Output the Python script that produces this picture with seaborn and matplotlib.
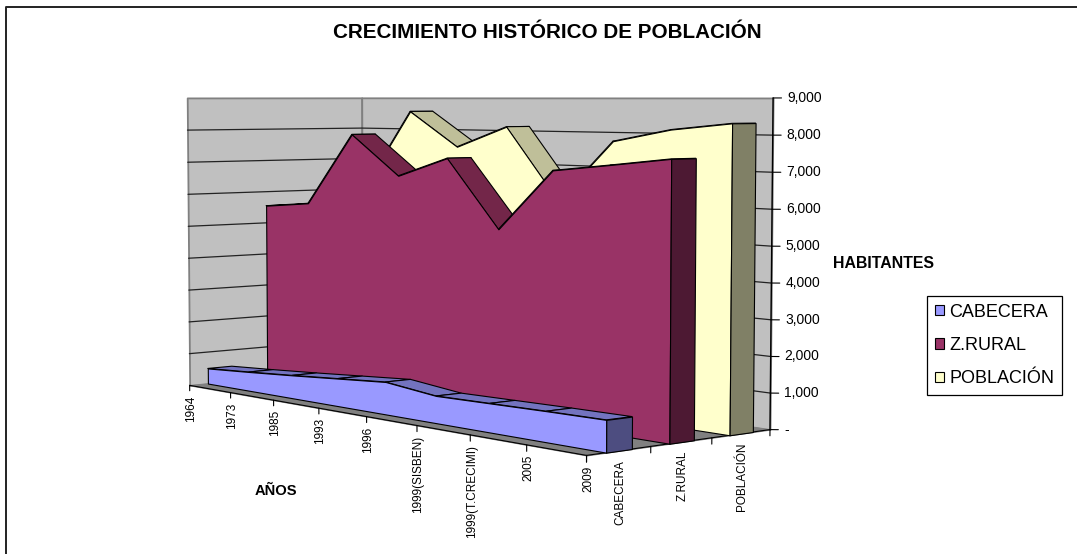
#!/usr/bin/env python
"""Crecimiento historico de poblacion, 3D area chart."""
import matplotlib
matplotlib.use('Agg')
import matplotlib.pyplot as plt
import numpy as np
from matplotlib.lines import Line2D
from matplotlib.patches import Patch
from mpl_toolkits.mplot3d import proj3d
from mpl_toolkits.mplot3d.art3d import Poly3DCollection
import seaborn as sns

YEARS = ['1964', '1973', '1985', '1993', '1996', '1999(SISBEN)', '1999(T.CRECIMI)', '2005', '2009']
SERIES = ['CABECERA', 'Z.RURAL', 'POBLACIÓN']
CABECERA = [480, 580, 690, 810, 930, 760, 790, 820, 840]
RURAL = [5550, 5710, 7890, 6690, 7260, 5300, 7020, 7220, 7430]
POBLACION = [5940, 6200, 8580, 7520, 8150, 6040, 7790, 8140, 8330]
Z_TICKS = [0, 1000, 2000, 3000, 4000, 5000, 6000, 7000, 8000, 9000]
Z_LABELS = ['-', '1,000', '2,000', '3,000', '4,000', '5,000', '6,000', '7,000', '8,000', '9,000']

W, H = 1077, 554
sns.set_theme(style='white')
plt.rcParams['font.family'] = ['Liberation Sans', 'DejaVu Sans']
plt.rcParams['text.color'] = 'black'

fig = plt.figure(figsize=(W / 100, H / 100), dpi=100)
ax = fig.add_axes([93.8 / W, -63.9 / H, 711.3 / W, 711.3 / H], projection='3d', computed_zorder=False)
ax.set_xlim(0, 8, view_margin=0)
ax.set_ylim(0, 3, view_margin=0)
ax.set_zlim(0, 9000, view_margin=0)
ax.view_init(3.961, -40.101, 0.015)
ax.set_proj_type('persp', focal_length=0.586)
ax.set_box_aspect((np.exp(0.7), np.exp(-0.273), 1))
ax.set_axis_off()
ax.patch.set_alpha(0)
M = ax.get_proj()


def poly(verts, color, zo, ec='black', lw=0.8):
    ax.add_collection3d(Poly3DCollection(verts, facecolors=color, edgecolors=ec, linewidths=lw, zorder=zo))


def label(x, y, z, s, dx, dy, **kw):
    # 3D text cannot stay exactly upright, so project the anchor and annotate in 2D
    X, Y, _ = proj3d.proj_transform(x, y, z, M)
    ax.annotate(s, xy=(X, Y), xycoords='data', xytext=(dx, dy), textcoords='offset pixels', zorder=40,
                annotation_clip=False, **kw)


poly([[(0, 0, 0), (0, 3, 0), (0, 3, 9000), (0, 0, 9000)]], '#C0C0C0', 1, ec='#808080', lw=1.3)
poly([[(0, 3, 0), (8, 3, 0), (8, 3, 9000), (0, 3, 9000)]], '#C0C0C0', 1, ec='#808080', lw=1.3)
poly([[(0, 0, 0), (8, 0, 0), (8, 3, 0), (0, 3, 0)]], '#808080', 2, ec='#808080', lw=0.8)
for z in Z_TICKS[1:-1]:
    ax.plot([0, 0, 8], [0, 3, 3], [z, z, z], color='#222222', lw=0.9, zorder=3)

ax.plot([0, 8, 8], [0, 0, 3], [0, 0, 0], color='black', lw=0.8, zorder=3)
ax.plot([8, 8], [3, 3], [0, 9000], color='black', lw=1.0, zorder=3)
for i, lab in enumerate(YEARS):
    ax.plot([i, i], [0, 0], [0, -170], color='black', lw=0.8, zorder=3)
    label(i, 0, 0, lab, 1.5, -10, rotation=90, ha='center', va='top', fontsize=8.5)
for d in range(4):
    ax.plot([8, 8], [d, d], [0, -170], color='black', lw=0.8, zorder=3)
for d, lab in enumerate(SERIES):
    label(8, d + .5, 0, lab, 1, -9, rotation=90, ha='center', va='top', fontsize=8.5)
for z, lab in zip(Z_TICKS, Z_LABELS):
    ax.plot([8, 8.07], [3, 3.07], [z, z], color='black', lw=0.8, zorder=3)
    label(8, 3, z, lab, 14, 0, ha='left', va='center', fontsize=10)

colors = sns.color_palette(['#9999FF', '#993366', '#FFFFCC'])
tops = ['#7373BF', '#732649', '#BFBF99']
sides = ['#4D4D80', '#4D1933', '#808066']
# back to front
for n, vals, zo in ((2, POBLACION, 10), (1, RURAL, 20), (0, CABECERA, 30)):
    y0, y1 = n + .3, n + .7
    quads = [[(i, y0, vals[i]), (i + 1, y0, vals[i + 1]), (i + 1, y1, vals[i + 1]), (i, y1, vals[i])]
             for i in range(len(vals) - 1)]
    poly(quads, tops[n], zo)
    front = [(i, y0, v) for i, v in enumerate(vals)] + [(8, y0, 0), (0, y0, 0)]
    poly([front], colors[n], zo + 1)
    poly([[(8, y0, 0), (8, y1, 0), (8, y1, vals[-1]), (8, y0, vals[-1])]], sides[n], zo + 2)

fig.text(547 / W, 1 - 33 / H, 'CRECIMIENTO HISTÓRICO DE POBLACIÓN', ha='center', va='center',
         fontsize=14.9, fontweight='bold')
fig.text(276 / W, 1 - 491 / H, 'AÑOS', ha='center', va='center', fontsize=10.6, fontweight='bold')
fig.text(884 / W, 1 - 263 / H, 'HABITANTES', ha='center', va='center', fontsize=11.4, fontweight='bold')

handles = [Patch(facecolor=col, edgecolor='black', lw=0.8) for col in colors]
leg = fig.legend(handles, SERIES, loc='upper left', bbox_to_anchor=(927 / W, 1 - 296 / H), borderaxespad=0,
                 frameon=True, fancybox=False, edgecolor='black', framealpha=1, fontsize=13, labelspacing=0.9,
                 handlelength=0.52, handleheight=0.5, handletextpad=0.3, borderpad=0.42)
leg.get_frame().set_linewidth(0.9)

# chart frame, only top and left edges fall inside the picture
fig.add_artist(Line2D([6 / W, 6 / W, 1], [0, 1 - 7 / H, 1 - 7 / H], transform=fig.transFigure, color='#222222', lw=1.4))
fig.savefig('out.png', dpi=100)
